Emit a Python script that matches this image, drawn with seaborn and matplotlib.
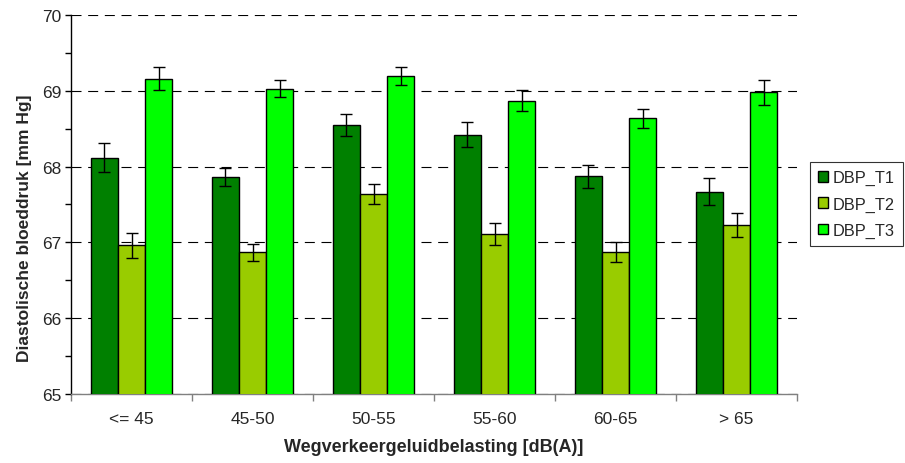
import numpy as np
import pandas as pd
import matplotlib
matplotlib.use("Agg")
import matplotlib.pyplot as plt
from matplotlib.ticker import MultipleLocator
import seaborn as sns

categories = ["<= 45", "45-50", "50-55", "55-60", "60-65", "> 65"]
series = ["DBP_T1", "DBP_T2", "DBP_T3"]
dbp_t1 = [68.12, 67.86, 68.55, 68.42, 67.87, 67.67]
dbp_t2 = [66.96, 66.87, 67.64, 67.11, 66.87, 67.23]
dbp_t3 = [69.16, 69.03, 69.20, 68.87, 68.64, 68.98]
err_t1 = [0.19, 0.115, 0.145, 0.165, 0.15, 0.18]
err_t2 = [0.165, 0.11, 0.13, 0.145, 0.13, 0.155]
err_t3 = [0.155, 0.11, 0.12, 0.14, 0.125, 0.165]
colors = ["#008000", "#99CC00", "#00FF00"]

sns.set_theme(style="white")
plt.rcParams["font.family"] = ["Liberation Sans", "DejaVu Sans"]

df = pd.DataFrame({
    "cat": categories * 3,
    "series": [s for s in series for _ in categories],
    "value": dbp_t1 + dbp_t2 + dbp_t3,
    "err": err_t1 + err_t2 + err_t3,
})

fig = plt.figure(figsize=(9.05, 4.64), dpi=100)
ax = fig.add_axes([71/905, 1 - 395/464, (797 - 71)/905, (395 - 16)/464])

sns.barplot(data=df, x="cat", y="value", hue="series", palette=colors,
            saturation=1, width=0.67, errorbar=None, edgecolor="black",
            linewidth=1.0, ax=ax, zorder=3)

# error bars at bar centres
bars = [p for p in ax.patches if p.get_height() != 0][:len(df)]
for i, errs in enumerate([err_t1, err_t2, err_t3]):
    for j in range(len(categories)):
        p = bars[i * len(categories) + j]
        xc = p.get_x() + p.get_width() / 2
        ax.errorbar(xc, df["value"][i * len(categories) + j], yerr=errs[j],
                    fmt="none", ecolor="black", elinewidth=1.0, capsize=4,
                    capthick=1.0, zorder=4)

ax.set_ylim(65, 70)
ax.set_xlim(-0.5, len(categories) - 0.5)
ax.yaxis.set_major_locator(MultipleLocator(1))
ax.yaxis.set_minor_locator(MultipleLocator(0.5))
ax.grid(axis="y", which="major", color="black", linestyle=(0, (9, 6)), linewidth=0.8, zorder=0)
ax.set_axisbelow(True)

for sp in ["top", "right"]:
    ax.spines[sp].set_visible(False)
ax.spines["left"].set_color("black")
ax.spines["left"].set_linewidth(1.0)
ax.spines["bottom"].set_color("#808080")
ax.spines["bottom"].set_linewidth(1.0)

ax.tick_params(axis="y", which="both", direction="out", left=True, length=4,
               width=1, color="black", labelsize=12.5, pad=3)
# x ticks at category boundaries
ax.set_xticks(np.arange(len(categories)))
ax.set_xticklabels(categories)
ax.tick_params(axis="x", which="major", length=0, labelsize=12.5, pad=12)
ax.set_xticks(np.arange(-0.5, len(categories)), minor=True)
ax.tick_params(axis="x", which="minor", bottom=True, direction="out", length=5,
               width=1, color="#808080")

ax.set_xlabel("Wegverkeergeluidbelasting [dB(A)]", fontsize=13, fontweight="bold", labelpad=9)
ax.set_ylabel("Diastolische bloeddruk [mm Hg]", fontsize=12.5, fontweight="bold")
ax.yaxis.set_label_coords(-0.054, 0.44)

leg = ax.legend(loc="upper left", bbox_to_anchor=(810/905, 1 - 163/464),
                bbox_transform=fig.transFigure, frameon=True, fancybox=False,
                edgecolor="black", fontsize=11.8, handlelength=0.6, handleheight=0.6,
                handletextpad=0.3, borderpad=0.5, labelspacing=0.68, borderaxespad=0)
leg.get_frame().set_linewidth(0.8)
for h in leg.legend_handles:
    h.set_edgecolor("black")

fig.savefig("out.png", dpi=100)
